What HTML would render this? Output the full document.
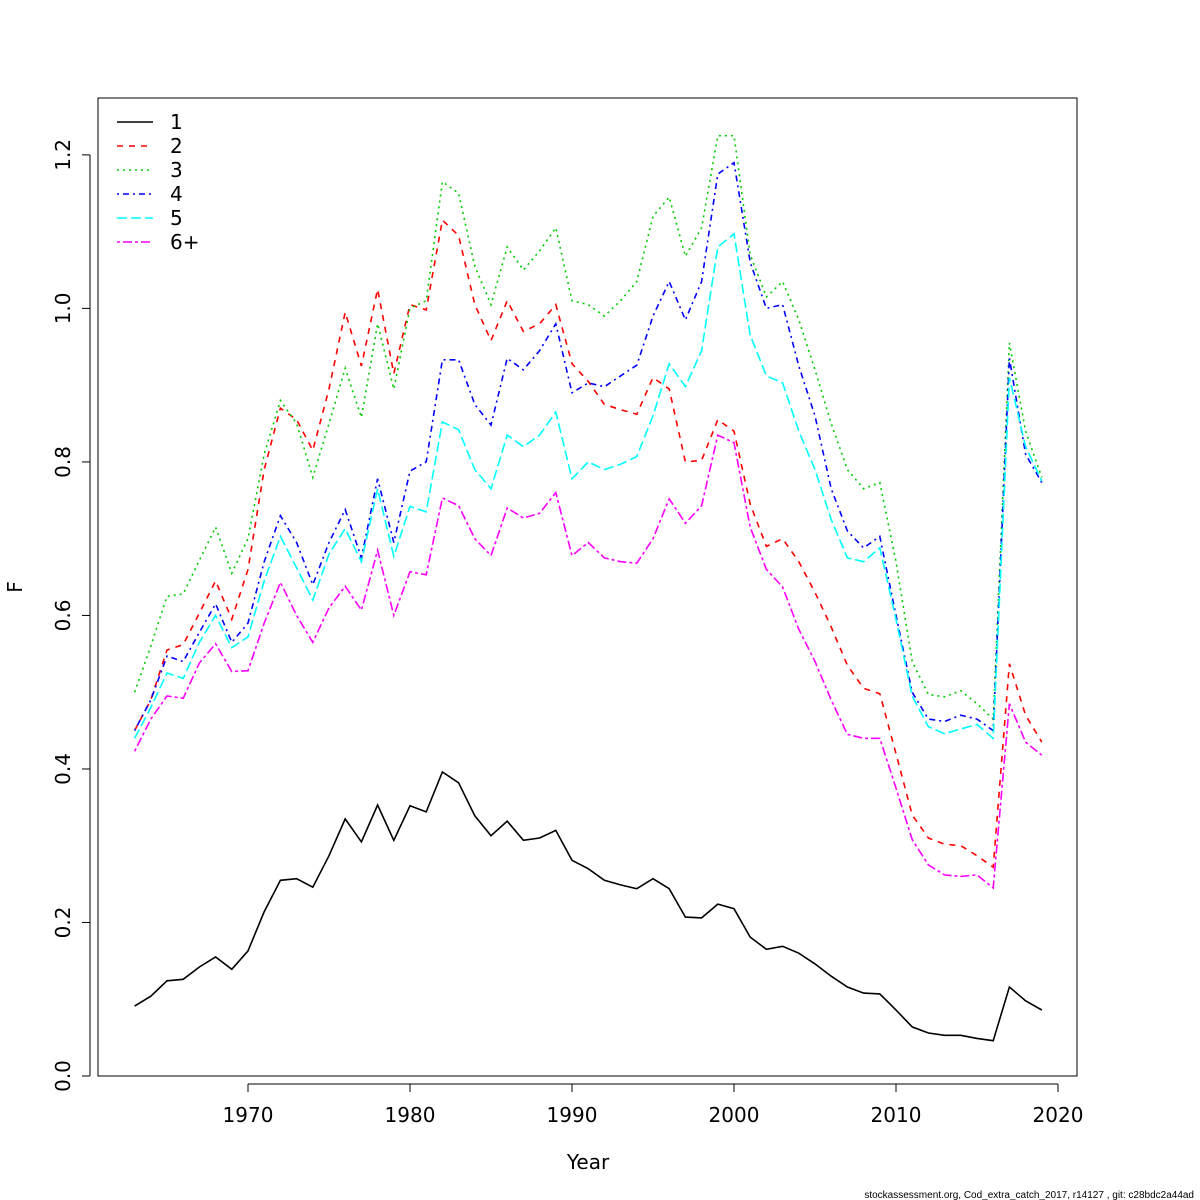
<!DOCTYPE html>
<html><head><meta charset="utf-8"><style>
body{margin:0;background:#fff}
svg{display:block;font-family:"DejaVu Sans","Liberation Sans",sans-serif}
</style></head><body>
<svg id="chart" width="1200" height="1200" viewBox="0 0 1200 1200"></svg>
<script>
const years = [];
for (let y = 1963; y <= 2019; y++) years.push(y);
const s1 = [0.091,0.104,0.124,0.126,0.142,0.155,0.139,0.163,0.214,0.255,0.257,0.246,0.287,0.335,0.305,0.353,0.307,0.352,0.344,0.396,0.382,0.339,0.313,0.332,0.307,0.310,0.320,0.281,0.270,0.255,0.249,0.244,0.257,0.244,0.207,0.206,0.224,0.218,0.181,0.165,0.169,0.160,0.146,0.130,0.116,0.108,0.107,0.086,0.064,0.056,0.053,0.053,0.049,0.046,0.116,0.098,0.086];
const s2 = [0.45,0.49,0.555,0.562,0.603,0.645,0.595,0.66,0.79,0.87,0.855,0.815,0.895,0.995,0.925,1.025,0.915,1.005,0.998,1.115,1.095,1.005,0.958,1.01,0.97,0.98,1.005,0.928,0.905,0.875,0.868,0.862,0.91,0.895,0.80,0.802,0.855,0.84,0.745,0.69,0.70,0.67,0.63,0.585,0.535,0.505,0.498,0.42,0.34,0.31,0.302,0.3,0.287,0.272,0.537,0.47,0.435];
const s3 = [0.50,0.56,0.625,0.628,0.672,0.715,0.655,0.70,0.81,0.88,0.85,0.78,0.85,0.922,0.858,0.98,0.895,1.0,1.01,1.165,1.15,1.055,1.005,1.08,1.05,1.075,1.105,1.01,1.005,0.99,1.01,1.035,1.12,1.145,1.068,1.105,1.225,1.225,1.07,1.015,1.035,0.985,0.92,0.85,0.79,0.765,0.773,0.67,0.54,0.497,0.494,0.502,0.485,0.465,0.955,0.84,0.78];
const s4 = [0.45,0.49,0.547,0.54,0.578,0.615,0.565,0.59,0.67,0.73,0.695,0.64,0.695,0.738,0.675,0.778,0.695,0.788,0.80,0.933,0.933,0.875,0.848,0.935,0.92,0.945,0.98,0.89,0.903,0.898,0.912,0.926,0.99,1.035,0.985,1.035,1.175,1.19,1.06,1.0,1.005,0.925,0.86,0.765,0.71,0.688,0.703,0.6,0.5,0.465,0.462,0.47,0.465,0.45,0.935,0.81,0.773];
const s5 = [0.44,0.48,0.525,0.518,0.565,0.6,0.558,0.572,0.645,0.703,0.662,0.62,0.68,0.713,0.67,0.765,0.677,0.742,0.735,0.852,0.842,0.79,0.765,0.835,0.82,0.835,0.865,0.778,0.8,0.79,0.797,0.807,0.86,0.928,0.898,0.945,1.08,1.097,0.965,0.912,0.903,0.84,0.79,0.725,0.675,0.67,0.688,0.595,0.495,0.455,0.446,0.452,0.458,0.44,0.91,0.82,0.775];
const s6 = [0.423,0.465,0.495,0.492,0.538,0.563,0.527,0.528,0.59,0.643,0.6,0.565,0.61,0.638,0.607,0.685,0.6,0.657,0.653,0.753,0.743,0.7,0.678,0.74,0.727,0.733,0.76,0.678,0.695,0.675,0.67,0.668,0.7,0.752,0.72,0.743,0.835,0.825,0.715,0.66,0.637,0.582,0.54,0.49,0.445,0.44,0.44,0.375,0.308,0.275,0.262,0.26,0.262,0.245,0.485,0.435,0.418];
const seriesNames = ["1","2","3","4","5","6+"];
const xTicks = [1970,1980,1990,2000,2010,2020];
const yTicks = [0.0,0.2,0.4,0.6,0.8,1.0,1.2];

const allSeries = [s1,s2,s3,s4,s5,s6];
const colors = ["#000000","#ff0000","#00cd00","#0000ff","#00ffff","#ff00ff"];
const dashes = ["","6,6","2,4","2,4,6,4","10,4","3,3,9,3"];
const X = v => 248 + (v - 1970) * 16.2;
const Y = v => 1076 - v * 767.6;
const NS = "http://www.w3.org/2000/svg";
const svg = document.getElementById("chart");
function mk(tag, attrs, parent) {
  const e = document.createElementNS(NS, tag);
  for (const k in attrs) e.setAttribute(k, attrs[k]);
  (parent || svg).appendChild(e);
  return e;
}
const box = mk("rect", {x:98, y:98, width:979, height:978, fill:"none", stroke:"#000", "stroke-width":1});



const xAxis = mk("g", {});


mk("line", {x1:X(xTicks[0]), x2:X(xTicks[xTicks.length-1]), y1:1084, y2:1084, stroke:"#000"}, xAxis);
xTicks.forEach(t => {
  mk("line", {x1:X(t), x2:X(t), y1:1084, y2:1092, stroke:"#000"}, xAxis);
  const tx = mk("text", {x:X(t), y:1122, "text-anchor":"middle", "font-size":20}, xAxis);
  tx.textContent = t;
  
  
});
const yAxis = mk("g", {});


mk("line", {x1:90, x2:90, y1:Y(yTicks[0]), y2:Y(yTicks[yTicks.length-1]), stroke:"#000"}, yAxis);
yTicks.forEach(t => {
  mk("line", {x1:82, x2:90, y1:Y(t), y2:Y(t), stroke:"#000"}, yAxis);
  const tx = mk("text", {x:70, y:Y(t), "text-anchor":"middle", "font-size":20, transform:`rotate(-90 70 ${Y(t)})`}, yAxis);
  tx.textContent = t.toFixed(1);
  
  
});
const xt = mk("text", {x:588, y:1169, "text-anchor":"middle", "font-size":20});
xt.textContent = "Year";


const yt = mk("text", {x:22, y:587, "text-anchor":"middle", "font-size":20, transform:"rotate(-90 22 587)"});
yt.textContent = "F";



allSeries.forEach((s, i) => {
  const pts = s.map((v, j) => X(years[j]).toFixed(1) + "," + Y(v).toFixed(1)).join(" ");
  const pl = mk("polyline", {points:pts, fill:"none", stroke:colors[i], "stroke-width":1.6, "stroke-dasharray":dashes[i] || "none"});
  
  
});

const legend = mk("g", {});


seriesNames.forEach((n, i) => {
  const y = 122 + i * 24;
  const g = mk("g", {}, legend);
  
  
  mk("line", {x1:117, x2:153, y1:y, y2:y, stroke:colors[i], "stroke-width":1.6, "stroke-dasharray":dashes[i] || "none"}, g);
  const t = mk("text", {x:170, y:y + 7, "font-size":20}, g);
  t.textContent = n;
});

const foot = mk("text", {x:1194, y:1198, "text-anchor":"end", "font-size":10, "font-family":"Liberation Sans, sans-serif"});
foot.textContent = "stockassessment.org, Cod_extra_catch_2017, r14127 , git: c28bdc2a44ad";


</script>
</body></html>
